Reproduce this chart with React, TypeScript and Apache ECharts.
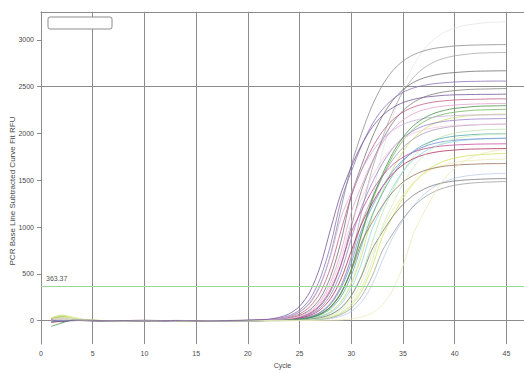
import React, { useEffect, useRef } from 'react';
import * as echarts from 'echarts';

const cycles = [1, 2, 3, 4, 5, 6, 7, 8, 9, 10, 11, 12, 13, 14, 15, 16, 17, 18, 19, 20, 21, 22, 23, 24, 25, 26, 27, 28, 29, 30, 31, 32, 33, 34, 35, 36, 37, 38, 39, 40, 41, 42, 43, 44, 45];

const well01 = [8, 10, 4, 1, 3, 0, -2, 1, 2, 0, -1, 1, 3, 2, 0, -1, 1, 2, 3, 4, 6, 11, 22, 44, 92, 187, 376, 708, 1195, 1658, 2003, 2292, 2513, 2670, 2773, 2841, 2882, 2909, 2923, 2935, 2941, 2945, 2947, 2949, 2950];
const well02 = [-6, 4, 6, 2, 0, 1, -1, 0, 2, 1, 0, -2, 1, 2, 0, 1, -1, 0, 2, 1, 3, 2, 6, 10, 20, 41, 87, 182, 366, 689, 1162, 1613, 1949, 2230, 2445, 2597, 2698, 2764, 2804, 2830, 2844, 2856, 2861, 2864, 2867];
const well03 = [15, 20, 8, 3, 1, -1, 0, 2, 1, -2, 0, 1, 2, 0, -1, 1, 0, 2, 1, 2, 5, 8, 13, 27, 56, 117, 240, 473, 844, 1335, 1661, 1952, 2184, 2352, 2467, 2545, 2593, 2622, 2641, 2651, 2659, 2665, 2667, 2669, 2670];
const well04 = [-10, 5, 9, 4, 2, 0, 1, -1, 0, 2, 3, 1, 0, -1, 1, 2, 0, 1, 2, 4, 6, 12, 25, 54, 113, 230, 453, 809, 1280, 1592, 1871, 2094, 2255, 2365, 2440, 2486, 2514, 2532, 2542, 2550, 2555, 2557, 2559, 2560, 2560];
const well05 = [5, -4, 2, 6, 3, 1, 0, -1, 1, 0, 2, 1, -1, 0, 1, 2, 0, 1, 2, 3, 2, 5, 9, 17, 35, 75, 157, 316, 595, 1004, 1394, 1684, 1927, 2113, 2244, 2331, 2388, 2423, 2445, 2458, 2468, 2473, 2475, 2478, 2480];
const well06 = [22, 30, 12, 5, 2, 0, -1, 1, 3, 2, 0, -1, 0, 1, 2, 1, 0, 2, 3, 2, 5, 8, 16, 34, 72, 150, 302, 569, 960, 1332, 1609, 1841, 2019, 2145, 2228, 2282, 2315, 2337, 2349, 2358, 2363, 2365, 2368, 2370, 2370];
const well07 = [3, 12, 6, 8, 4, 2, 1, 0, -1, 1, 2, 0, 1, -1, 0, 2, 1, 1, 2, 3, 4, 6, 12, 23, 48, 102, 209, 411, 733, 1160, 1443, 1696, 1898, 2044, 2144, 2211, 2253, 2278, 2294, 2304, 2311, 2315, 2318, 2320, 2320];
const well08 = [20, 45, 25, 10, 4, 1, 0, -2, 0, 1, 2, 0, -1, 1, 0, 2, 1, 0, 1, 2, 1, 2, 4, 8, 16, 33, 69, 144, 288, 542, 915, 1270, 1535, 1756, 1926, 2045, 2124, 2176, 2208, 2228, 2240, 2249, 2253, 2256, 2258];
const well09 = [30, 60, 40, 15, 6, 2, 0, 1, -1, 0, 2, 1, 0, -1, 1, 0, 2, 1, 0, 1, 2, 1, 3, 6, 11, 22, 46, 97, 199, 391, 698, 1105, 1375, 1616, 1808, 1947, 2042, 2106, 2146, 2170, 2186, 2195, 2201, 2206, 2208];
const well10 = [0, 8, 14, 6, 2, 1, -1, 0, 1, 2, 0, -1, 1, 0, 2, 1, 0, 1, 2, 1, 2, 4, 8, 15, 31, 66, 137, 275, 518, 875, 1214, 1467, 1678, 1840, 1955, 2030, 2080, 2110, 2130, 2141, 2149, 2154, 2156, 2158, 2160];
const well11 = [10, 2, -3, 5, 3, 1, 0, 2, 1, -1, 0, 1, 2, 0, 1, -1, 0, 1, 2, 2, 1, 3, 5, 10, 21, 44, 92, 189, 372, 664, 1050, 1306, 1535, 1718, 1850, 1940, 2001, 2039, 2062, 2077, 2085, 2092, 2096, 2098, 2100];
const well12 = [12, 25, 18, 8, 3, 1, 0, -1, 1, 0, 2, 1, 0, -1, 0, 1, 2, 0, 1, 1, 0, 1, 2, 4, 7, 14, 29, 62, 130, 261, 492, 830, 1152, 1392, 1593, 1747, 1855, 1927, 1974, 2003, 2021, 2032, 2040, 2044, 2046];
const well13 = [-15, 4, 8, 5, 2, 0, 1, 0, -1, 1, 2, 0, 1, 0, -1, 1, 2, 1, 0, 1, 2, 2, 4, 7, 13, 29, 61, 127, 255, 480, 810, 1124, 1358, 1554, 1704, 1810, 1880, 1926, 1954, 1972, 1982, 1990, 1994, 1996, 1998];
const well14 = [6, 15, 10, 4, 1, 0, 2, 1, -1, 0, 1, 2, 0, 1, 0, -1, 1, 2, 1, 0, 1, 2, 3, 5, 9, 19, 41, 86, 176, 345, 616, 975, 1213, 1425, 1595, 1718, 1802, 1858, 1893, 1915, 1929, 1936, 1942, 1946, 1948];
const well15 = [18, 8, 2, 4, 1, 0, -1, 1, 2, 0, 1, -1, 0, 2, 1, 0, 1, 2, 1, 2, 3, 5, 10, 19, 40, 83, 170, 335, 597, 945, 1176, 1382, 1546, 1665, 1746, 1801, 1835, 1856, 1869, 1877, 1882, 1886, 1888, 1889, 1890];
const well16 = [-20, -5, 6, 4, 2, 1, 0, 1, -1, 0, 2, 1, 0, 1, -1, 0, 2, 1, 1, 2, 1, 4, 7, 12, 26, 56, 117, 235, 442, 745, 1034, 1249, 1430, 1568, 1665, 1730, 1772, 1798, 1814, 1823, 1831, 1834, 1836, 1838, 1840];
const well17 = [25, 50, 30, 12, 5, 2, 1, 0, -1, 1, 0, 2, 1, 0, -1, 1, 0, 2, 1, 0, 1, 2, 1, 3, 5, 8, 18, 37, 79, 161, 317, 566, 895, 1113, 1308, 1464, 1577, 1654, 1706, 1738, 1758, 1770, 1777, 1783, 1786];
const well18 = [8, 20, 35, 15, 6, 2, 0, 1, -1, 0, 1, 2, 0, 1, 0, -1, 1, 2, 1, 0, 1, 1, 2, 4, 6, 12, 25, 53, 110, 221, 415, 701, 972, 1175, 1344, 1474, 1566, 1626, 1666, 1690, 1706, 1714, 1721, 1725, 1727];
const well19 = [5, 10, 4, 2, 0, 1, -1, 0, 3, 5, 2, 0, 1, -1, 0, 1, 2, 1, 0, 1, 2, 3, 5, 8, 16, 35, 74, 151, 297, 531, 840, 1045, 1228, 1374, 1480, 1552, 1601, 1631, 1650, 1662, 1668, 1673, 1677, 1678, 1680];
const well20 = [10, 18, 12, 6, 3, 1, 0, -1, 1, 2, 0, 1, -1, 0, 1, 2, 0, 1, 0, 1, 2, 1, 0, 1, 3, 5, 11, 23, 48, 100, 201, 379, 640, 888, 1073, 1228, 1346, 1430, 1485, 1522, 1544, 1558, 1566, 1572, 1575];
const well21 = [-5, 6, 3, 1, 0, 2, 1, -1, 0, 1, 2, 0, -1, 1, 0, 1, 2, 0, 1, 1, 0, 2, 3, 4, 7, 15, 32, 67, 137, 269, 480, 760, 945, 1111, 1243, 1339, 1404, 1449, 1476, 1493, 1503, 1509, 1514, 1517, 1518];
const well22 = [4, 9, 5, 2, 1, 0, -1, 1, 2, 0, 1, -1, 0, 2, 1, 0, 1, 0, 2, 1, 0, 1, 1, 2, 3, 7, 15, 31, 66, 134, 264, 471, 745, 927, 1089, 1219, 1313, 1377, 1420, 1447, 1463, 1474, 1480, 1484, 1487];
const well23 = [2, 14, 9, 3, 1, 0, 2, 1, -1, 0, 1, 2, 0, -1, 1, 0, 2, 1, 1, 3, 6, 11, 22, 46, 97, 198, 389, 695, 1100, 1368, 1608, 1800, 1938, 2033, 2097, 2136, 2160, 2176, 2185, 2191, 2196, 2198, 2199, 2200, 2200];
const well24 = [16, 24, 10, 5, 2, 1, 0, -1, 1, 2, 0, 1, -1, 0, 1, 2, 0, 1, 2, 1, 3, 5, 10, 21, 44, 92, 189, 372, 664, 1050, 1306, 1535, 1718, 1850, 1940, 2001, 2039, 2062, 2077, 2085, 2092, 2096, 2098, 2100, 2100];
const well25 = [-8, 2, 5, 3, 1, 0, 1, -1, 0, 2, 1, 0, -1, 1, 0, 2, 1, 0, 1, 2, 1, 3, 5, 9, 19, 41, 86, 176, 345, 616, 975, 1213, 1425, 1595, 1718, 1802, 1858, 1893, 1915, 1929, 1936, 1942, 1946, 1948, 1950];
const well26 = [-60, -25, 5, 3, 0, -2, 1, 0, -1, 1, 0, 2, 1, -1, 0, 1, 0, 2, 1, 0, 1, 2, 4, 8, 16, 33, 70, 146, 293, 552, 932, 1293, 1562, 1787, 1960, 2082, 2162, 2215, 2247, 2268, 2279, 2289, 2293, 2295, 2298];
const well27 = [15, 32, 22, 10, 4, 1, 0, -1, 1, 2, 0, 1, 0, -1, 1, 2, 0, 1, 0, 1, 2, 1, 1, 3, 5, 9, 20, 42, 88, 180, 354, 632, 1000, 1244, 1462, 1636, 1762, 1848, 1906, 1942, 1964, 1978, 1986, 1992, 1996];
const well28 = [6, 12, 8, 4, 2, 1, 0, -1, 1, 0, 2, 1, 0, -1, 1, 0, 2, 1, 0, 1, 1, 2, 1, 0, 1, 2, 3, 5, 9, 18, 39, 81, 167, 327, 585, 925, 1151, 1352, 1513, 1630, 1709, 1763, 1796, 1817, 1830];
const well29 = [10, -12, 4, 6, 3, 1, 0, 2, 1, -1, 0, 1, 2, 0, 1, -1, 0, 2, 2, 5, 9, 16, 35, 74, 154, 309, 581, 980, 1360, 1643, 1880, 2062, 2190, 2275, 2330, 2364, 2386, 2398, 2408, 2413, 2415, 2417, 2418, 2419, 2420];
const well30 = [3, 8, 5, 2, 1, 0, 1, -1, 0, 1, 2, 0, 1, 0, -1, 1, 2, 0, 1, 1, 0, 2, 2, 5, 10, 21, 46, 97, 203, 408, 768, 1296, 1798, 2173, 2486, 2726, 2896, 3008, 3082, 3126, 3155, 3171, 3184, 3190, 3195];

const wells = [well30, well01, well02, well03, well04, well05, well06, well07, well08, well09, well10, well11, well12, well13, well14, well15, well16, well17, well18, well19, well20, well21, well22, well23, well24, well25, well26, well27, well28, well29];
const wellColors = ['#e6e6e6', '#8a8a8a', '#a8a8a8', '#6e6e6e', '#8a70b6', '#7c7c7c', '#c25a82', '#e3a2cd', '#6cb85a', '#c9dd6a', '#9a80c8', '#a99bba', '#bbe4aa', '#4fa8aa', '#8fd4e2', '#c24c9e', '#ad2c58', '#d4e15a', '#ecebb0', '#927058', '#b8cdea', '#7a7a7a', '#9c9c9c', '#c8aee2', '#f2c8dc', '#7490d6', '#469246', '#cbefbc', '#efe7b8', '#735499'];

const xTickValues = [0, 5, 10, 15, 20, 25, 30, 35, 40, 45];
const yTickValues = [0, 500, 1000, 1500, 2000, 2500, 3000];
const thresholdValue = 363.37;
const thresholdLabel = '363.37';
const xAxisTitle = 'Cycle';
const yAxisTitle = 'PCR Base Line Subtracted Curve Fit RFU';

export default function App() {
  const ref = useRef<HTMLDivElement>(null);

  useEffect(() => {
    document.body.style.margin = '0';
    const chart = echarts.init(ref.current!, null, { renderer: 'svg' });
    const gridColor = '#8c8c8c';
    const clear = 'rgba(0,0,0,0)';
    const xSplitColors = [...xTickValues.map(() => gridColor), clear];
    const ySplitColors = [clear, clear, clear, clear, clear, gridColor, clear, clear, clear, clear];
    const labelStyle = { fontSize: 7, color: '#4a4a4a', fontFamily: 'Liberation Sans' };

    const series: any[] = wells.map((w, k) => ({
      type: 'line',
      xAxisIndex: 0,
      yAxisIndex: 0,
      data: w.map((v, i) => [cycles[i], v]),
      showSymbol: false,
      smooth: 0.3,
      silent: true,
      z: 3,
      lineStyle: { width: 1, color: wellColors[k], opacity: 0.78 },
      itemStyle: { color: wellColors[k] },
    }));
    series.push({
      type: 'line',
      data: [],
      z: 4,
      markLine: {
        silent: true,
        symbol: ['none', 'none'],
        lineStyle: { color: '#9ad89a', width: 1, type: 'solid' },
        label: {
          show: true,
          position: 'insideStartTop',
          formatter: thresholdLabel,
          fontSize: 7,
          color: '#555',
          fontFamily: 'Liberation Sans',
        },
        data: [{ yAxis: thresholdValue }],
      },
    });

    chart.setOption({
      animation: false,
      backgroundColor: '#ffffff',
      grid: { left: 41, right: 0, top: 11.8, bottom: 26.3, containLabel: false },
      xAxis: [
        {
          type: 'value',
          min: 0,
          max: 46.7,
          interval: 5,
          name: xAxisTitle,
          nameLocation: 'middle',
          nameGap: 15,
          nameTextStyle: { fontSize: 7, color: '#4a4a4a', fontFamily: 'Liberation Sans' },
          axisLine: { show: true, lineStyle: { color: gridColor, width: 1 } },
          axisTick: { show: true, length: 4, lineStyle: { color: gridColor }, customValues: xTickValues },
          axisLabel: {
            ...labelStyle,
            margin: 6,
            customValues: xTickValues,
            formatter: (v: number) => (xTickValues.includes(v) ? String(v) : ''),
          },
          splitLine: { show: true, lineStyle: { color: xSplitColors, width: 1 } },
        },
        {
          type: 'value',
          position: 'top',
          min: 0,
          max: 46.7,
          interval: 5,
          axisLine: { show: true, lineStyle: { color: gridColor, width: 1 } },
          axisTick: { show: false },
          axisLabel: { show: false },
          splitLine: { show: false },
        },
      ],
      yAxis: {
        type: 'value',
        min: -250,
        max: 3300,
        interval: 50,
        axisLine: { show: true, lineStyle: { color: gridColor, width: 1 } },
        axisTick: { show: true, length: 4, lineStyle: { color: gridColor }, customValues: yTickValues },
        axisLabel: {
          ...labelStyle,
          margin: 7,
          customValues: yTickValues,
          formatter: (v: number) => (yTickValues.includes(v) ? String(v) : ''),
        },
        splitLine: { show: true, lineStyle: { color: ySplitColors, width: 1 } },
      },
      graphic: [
        {
          type: 'rect',
          shape: { x: 48, y: 17, width: 64, height: 12, r: 2 },
          style: { fill: '#ffffff', stroke: gridColor, lineWidth: 1 },
          z: 10,
        },
        {
          type: 'text',
          x: 12,
          y: 191,
          rotation: Math.PI / 2,
          style: {
            text: yAxisTitle,
            fontSize: 8,
            fill: '#4a4a4a',
            fontFamily: 'Liberation Sans',
            align: 'center',
            verticalAlign: 'middle',
          },
          z: 10,
        },
      ],
      series,
    });

    return () => chart.dispose();
  }, []);

  return <div ref={ref} style={{ position: 'absolute', left: 0, top: 0, width: 524, height: 374 }} />;
}
